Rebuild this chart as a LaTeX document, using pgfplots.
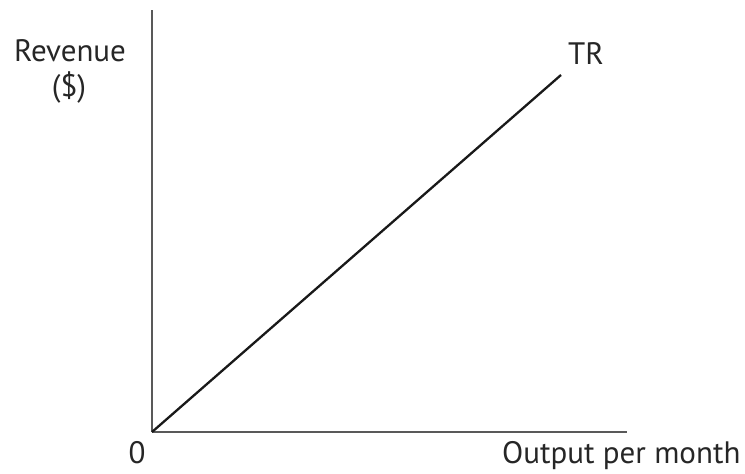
\documentclass[border=0pt]{standalone}
\usepackage{pgfplots}
\pgfplotsset{compat=1.18}
\usepackage{fontspec}
\setmainfont{PT Sans}
\newcommand{\lf}{\fontsize{31}{36}\selectfont}
\begin{document}
\begin{tikzpicture}
\useasboundingbox (-152pt,-42pt) rectangle (593pt,432pt);
\begin{axis}[
  at={(0pt,0pt)}, anchor=origin,
  scale only axis, width=475pt, height=422pt,
  xmin=0, xmax=475, ymin=0, ymax=422,
  axis lines=left, axis line style={-, black!65, line width=1.5pt},
  xtick=\empty, ytick=\empty,
  clip=false,
]
\addplot[black!90, line width=2.3pt] coordinates {(0,0) (409,357)};
\node[font=\lf, text=black!85, anchor=base] at (axis cs:-82,370) {Revenue};
\node[font=\lf, text=black!85, anchor=base] at (axis cs:-83,335) {(\$)};
\node[font=\lf, text=black!85, anchor=base] at (axis cs:434,367) {TR};
\node[font=\lf, text=black!85, anchor=base] at (axis cs:-15,-31) {0};
\node[font=\lf, text=black!85, anchor=base east] at (axis cs:592,-31) {Output per month};
\end{axis}
\end{tikzpicture}
\end{document}
